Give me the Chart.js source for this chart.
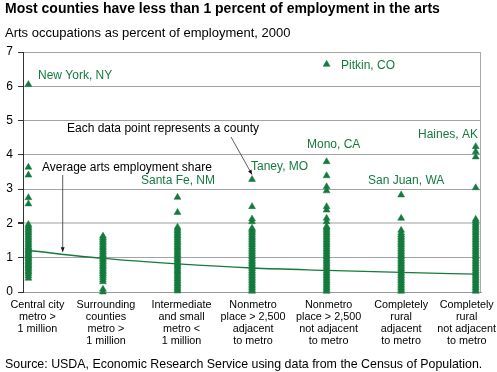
<!DOCTYPE html>
<html>
<head>
<meta charset="utf-8">
<script src="https://cdn.jsdelivr.net/npm/chart.js@4"></script>
<style>
  body { margin: 0; background: #fff; }
  #wrap { position: relative; width: 497px; height: 372px; overflow: hidden; font-family: "Liberation Sans", Arial, Helvetica, sans-serif; color: #000; }
  #chart { position: absolute; left: 0; top: 0; }
  .txt { position: absolute; left: 5px; white-space: nowrap; line-height: 16px; }
  #title { top: 0; font-size: 14px; font-weight: bold; }
  #subtitle { top: 25px; font-size: 13px; }
  #source { top: 356px; font-size: 12.4px; }
</style>
</head>
<body>
<div id="wrap">
  <canvas id="chart" width="497" height="372"></canvas>
  <div class="txt" id="title">Most counties have less than 1 percent of employment in the arts</div>
  <div class="txt" id="subtitle">Arts occupations as percent of employment, 2000</div>
  <div class="txt" id="source">Source: USDA, Economic Research Service using data from the Census of Population.</div>
</div>
<script>
// Data
const categories = [
  ["Central city", "metro >", "1 million"],
  ["Surrounding", "counties", "metro >", "1 million"],
  ["Intermediate", "and small", "metro <", "1 million"],
  ["Nonmetro", "place > 2,500", "adjacent", "to metro"],
  ["Nonmetro", "place > 2,500", "not adjacent", "to metro"],
  ["Completely", "rural", "adjacent", "to metro"],
  ["Completely", "rural", "not adjacent", "to metro"],
];

const yTicks = [0, 1, 2, 3, 4, 5, 6, 7];

// county shares, one list per county type
const centralCity = [0.40, 0.47, 0.53, 0.58, 0.63, 0.68, 0.72, 0.76, 0.80, 0.84, 0.88, 0.92, 0.96, 1.00, 1.04,
  1.08, 1.12, 1.16, 1.20, 1.24, 1.28, 1.32, 1.37, 1.42, 1.47, 1.52, 1.57, 1.62, 1.67, 1.72, 1.77, 1.82, 1.87,
  1.92, 1.97, 2.57, 2.75, 3.41, 3.64, 6.05];
const surrounding = [0.00, 0.08, 0.30, 0.36, 0.42, 0.48, 0.53, 0.58, 0.63, 0.68, 0.73, 0.78, 0.83, 0.88, 0.93,
  0.98, 1.03, 1.08, 1.13, 1.18, 1.23, 1.28, 1.33, 1.38, 1.43, 1.48, 1.53, 1.58, 1.63];
const intermediate = [0.03, 0.08, 0.13, 0.18, 0.23, 0.28, 0.33, 0.38, 0.43, 0.48, 0.53, 0.58, 0.63, 0.68, 0.73,
  0.78, 0.83, 0.88, 0.93, 0.98, 1.03, 1.08, 1.13, 1.18, 1.23, 1.28, 1.33, 1.38, 1.43, 1.48, 1.53, 1.58, 1.63,
  1.68, 1.73, 1.78, 1.83, 1.89, 2.32, 2.76];
const nonmetroAdj = [0.02, 0.07, 0.12, 0.17, 0.22, 0.27, 0.32, 0.37, 0.42, 0.47, 0.52, 0.57, 0.62, 0.67, 0.72,
  0.77, 0.82, 0.87, 0.92, 0.97, 1.02, 1.07, 1.12, 1.17, 1.22, 1.27, 1.32, 1.37, 1.42, 1.47, 1.52, 1.57, 1.62,
  1.67, 1.72, 1.77, 1.82, 1.86, 2.05, 2.13, 2.49, 3.28];
const nonmetroNotAdj = [0.02, 0.07, 0.12, 0.17, 0.22, 0.27, 0.32, 0.37, 0.42, 0.47, 0.52, 0.57, 0.62, 0.67, 0.72,
  0.77, 0.82, 0.87, 0.92, 0.97, 1.02, 1.07, 1.12, 1.17, 1.22, 1.27, 1.32, 1.37, 1.42, 1.47, 1.52, 1.57, 1.62,
  1.67, 1.72, 1.77, 1.82, 1.87, 1.91, 2.05, 2.15, 2.39, 2.49, 2.95, 3.07, 3.39, 3.80, 6.64];
const ruralAdj = [0.02, 0.07, 0.12, 0.17, 0.22, 0.27, 0.32, 0.37, 0.42, 0.47, 0.52, 0.57, 0.62, 0.67, 0.72,
  0.77, 0.82, 0.87, 0.92, 0.97, 1.02, 1.07, 1.12, 1.17, 1.22, 1.27, 1.32, 1.37, 1.42, 1.47, 1.52, 1.57, 1.62,
  1.67, 1.72, 1.80, 2.15, 2.83];
const ruralNotAdj = [0.02, 0.07, 0.12, 0.17, 0.22, 0.27, 0.32, 0.37, 0.42, 0.47, 0.52, 0.57, 0.62, 0.67, 0.72,
  0.77, 0.82, 0.87, 0.92, 0.97, 1.02, 1.07, 1.12, 1.17, 1.22, 1.27, 1.32, 1.37, 1.42, 1.47, 1.52, 1.57, 1.62,
  1.67, 1.72, 1.77, 1.82, 1.87, 1.92, 1.97, 2.02, 2.07, 2.12, 3.04, 3.94, 4.09, 4.24];

// average arts employment share by county type
const avgShare = [1.21, 0.98, 0.82, 0.70, 0.63, 0.57, 0.52];

const columns = [centralCity, surrounding, intermediate, nonmetroAdj, nonmetroNotAdj, ruralAdj, ruralNotAdj];

// Styles
const GREEN = "#157a3e";
const FONT = '"Liberation Sans", Arial, Helvetica, sans-serif';
const labelShift = [9, 3, 4, 1, 2, 0, -9];

// Build datasets
const countyPoints = [];
columns.forEach((vals, i) => {
  vals.forEach((v) => countyPoints.push({ x: i, y: v }));
});
const avgPoints = avgShare.map((v, i) => ({ x: i, y: v }));

// annotation labels (pixel positions)
const notes = [
  { text: "New York, NY", x: 38, y: 76, color: GREEN },
  { text: "Pitkin, CO", x: 341, y: 66, color: GREEN },
  { text: "Each data point represents a county", x: 67, y: 129, color: "#000" },
  { text: "Mono, CA", x: 307, y: 145, color: GREEN },
  { text: "Haines, AK", x: 418, y: 135, color: GREEN },
  { text: "Average arts employment share", x: 42, y: 168, color: "#000" },
  { text: "Santa Fe, NM", x: 141, y: 181, color: GREEN },
  { text: "Taney, MO", x: 251, y: 167, color: GREEN },
  { text: "San Juan, WA", x: 368, y: 181, color: GREEN },
];

function arrow(ctx, x1, y1, x2, y2) {
  const ang = Math.atan2(y2 - y1, x2 - x1);
  ctx.save();
  ctx.strokeStyle = "#333";
  ctx.fillStyle = "#111";
  ctx.lineWidth = 0.8;
  ctx.beginPath();
  ctx.moveTo(x1, y1);
  ctx.lineTo(x2, y2);
  ctx.stroke();
  ctx.beginPath();
  ctx.moveTo(x2, y2);
  ctx.lineTo(x2 - 5 * Math.cos(ang - 0.4), y2 - 5 * Math.sin(ang - 0.4));
  ctx.lineTo(x2 - 5 * Math.cos(ang + 0.4), y2 - 5 * Math.sin(ang + 0.4));
  ctx.closePath();
  ctx.fill();
  ctx.restore();
}

const decorations = {
  id: "decorations",
  beforeDatasetsDraw(chart) {
    const { ctx, chartArea } = chart;
    ctx.save();
    ctx.strokeStyle = "#aaa";
    ctx.lineWidth = 1;
    ctx.beginPath();
    ctx.moveTo(chartArea.right - 0.5, chartArea.top);
    ctx.lineTo(chartArea.right - 0.5, chartArea.bottom);
    ctx.stroke();
    ctx.restore();
  },
  afterDraw(chart) {
    const { ctx } = chart;
    const xs = chart.scales.x;
    const ys = chart.scales.y;
    ctx.save();
    // category labels
    ctx.font = "10.8px " + FONT;
    ctx.fillStyle = "#000";
    ctx.textAlign = "center";
    ctx.textBaseline = "middle";
    categories.forEach((lines, i) => {
      const cx = xs.getPixelForValue(i) + labelShift[i];
      lines.forEach((ln, j) => ctx.fillText(ln, cx, 305 + j * 12));
    });
    // annotations
    ctx.font = "12px " + FONT;
    ctx.textAlign = "left";
    notes.forEach((n) => {
      ctx.fillStyle = n.color;
      ctx.fillText(n.text, n.x, n.y);
    });
    ctx.restore();
    // arrow to the average line
    const ax = xs.getPixelForValue(0.46);
    arrow(ctx, ax, 175, ax, ys.getPixelForValue(1.17));
    // arrow to Taney, MO
    arrow(ctx, 231, 137, xs.getPixelForValue(3), ys.getPixelForValue(3.28) - 5);
  },
};

new Chart(document.getElementById("chart"), {
  type: "scatter",
  data: {
    datasets: [
      {
        type: "line",
        data: avgPoints,
        borderColor: GREEN,
        borderWidth: 1.3,
        pointRadius: 0,
        tension: 0.4,
        cubicInterpolationMode: "monotone",
        fill: false,
      },
      {
        data: countyPoints,
        pointStyle: "triangle",
        pointRadius: 4,
        backgroundColor: GREEN,
        borderColor: GREEN,
        borderWidth: 0.5,
        clip: false,
      },
    ],
  },
  plugins: [decorations],
  options: {
    responsive: false,
    animation: false,
    events: [],
    layout: { padding: { top: 52, right: 16, left: 0, bottom: 0 } },
    plugins: { legend: { display: false }, tooltip: { enabled: false } },
    scales: {
      x: {
        type: "linear",
        min: -0.0725,
        max: 6.071,
        grid: { display: false },
        border: { display: true, color: "#999", width: 1 },
        ticks: { display: false },
        afterFit: (scale) => { scale.height = 80; },
      },
      y: {
        min: 0,
        max: 7,
        afterBuildTicks: (scale) => { scale.ticks = yTicks.map((v) => ({ value: v })); },
        afterFit: (scale) => { scale.width = 23; },
        grid: {
          color: (c) => (c.tick && c.tick.value === 2 ? "#cfcfcf" : "#a3a3a3"),
          lineWidth: (c) => (c.tick && c.tick.value === 2 ? 2 : 1),
          tickColor: "#333",
          tickLength: 5,
        },
        border: { display: true, color: "#333", width: 1 },
        ticks: {
          color: "#000",
          padding: 5,
          font: { family: FONT, size: 12 },
        },
      },
    },
  },
});
</script>
</body>
</html>
